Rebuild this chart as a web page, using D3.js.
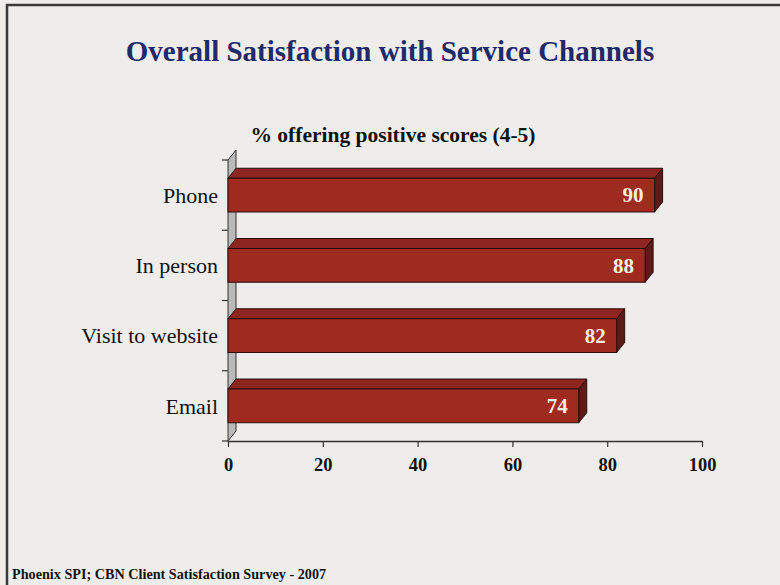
<!DOCTYPE html>
<html>
<head>
<meta charset="utf-8">
<script src="https://cdn.jsdelivr.net/npm/d3@7/dist/d3.min.js"></script>
<style>
  html, body { margin: 0; padding: 0; background: #eeedec; }
  svg { display: block; }
  text { font-family: "Liberation Serif", "Times New Roman", serif; }
</style>
</head>
<body>
<svg id="chart" width="780" height="585"></svg>
<script>
// Survey results: share of respondents giving a 4 or 5 rating
const categories = ["Phone", "In person", "Visit to website", "Email"];
const values = [90, 88, 82, 74];
const xTicks = [0, 20, 40, 60, 80, 100];

const titleText = "Overall Satisfaction with Service Channels";
const subtitleText = "% offering positive scores (4-5)";
const sourceText = "Phoenix SPI; CBN Client Satisfaction Survey - 2007";

const svg = d3.select("#chart");
const W = 780, H = 585;

// slide background and frame
svg.append("rect").attr("width", W).attr("height", H).attr("fill", "#eeedec");
svg.append("path")
  .attr("d", `M7,${H} L7,5 L${W},5`)
  .attr("fill", "none").attr("stroke", "#3a3a3a").attr("stroke-width", 2.5);

// titles
svg.append("text").attr("x", 390).attr("y", 61).attr("text-anchor", "middle")
  .attr("font-size", 29).attr("font-weight", "bold").attr("fill", "#1f2a6b")
  .text(titleText);
svg.append("text").attr("x", 393).attr("y", 142).attr("text-anchor", "middle")
  .attr("font-size", 21.5).attr("font-weight", "bold").attr("fill", "#111")
  .text(subtitleText);
svg.append("text").attr("x", 12).attr("y", 579)
  .attr("font-size", 14.2).attr("font-weight", "bold").attr("fill", "#111")
  .text(sourceText);

// plot area
const x0 = 228, x1 = 702, yTop = 160, yBot = 441;
const dx = 8, dy = 10; // 3D depth offset

const x = d3.scaleLinear().domain([0, 100]).range([x0, x1]);
const y = d3.scaleBand().domain(categories).range([yTop, yBot])
  .paddingInner(0.52).paddingOuter(0.26);

const g = svg.append("g");

// side wall
g.append("path")
  .attr("d", `M${x0},${yTop} L${x0},${yBot} L${x0 + dx},${yBot - dy} L${x0 + dx},${yTop - dy} Z`)
  .attr("fill", "#b9b9b9").attr("stroke", "#333").attr("stroke-width", 1);

// category tick marks on the wall edge
const edges = [yTop].concat(categories.slice(1).map(c => y(c) - (y.step() - y.bandwidth()) / 2), [yBot]);
g.selectAll(".ytick").data(edges).join("line")
  .attr("x1", x0 - 6).attr("x2", x0).attr("y1", d => d).attr("y2", d => d)
  .attr("stroke", "#333").attr("stroke-width", 1.2);

// value axis
const xAxis = d3.axisBottom(x).tickValues(xTicks).tickSize(6).tickSizeOuter(0);
const ax = svg.append("g").attr("transform", `translate(0,${yBot})`).call(xAxis);
ax.select(".domain").attr("stroke", "#333").attr("stroke-width", 1.5);
ax.selectAll(".tick line").attr("stroke", "#333").attr("stroke-width", 1.2);
ax.selectAll(".tick text").attr("font-family", "Liberation Serif, serif")
  .attr("font-size", 18.5).attr("font-weight", "bold").attr("fill", "#111").attr("dy", "1.15em");

// category labels
svg.selectAll(".cat").data(categories).join("text")
  .attr("x", 218).attr("y", d => y(d) + y.bandwidth() / 2)
  .attr("dy", "0.35em").attr("text-anchor", "end")
  .attr("font-size", 22).attr("fill", "#111")
  .text(d => d);

// 3D bars
const bars = g.selectAll(".bar").data(categories.map((c, i) => ({ c, v: values[i] })))
  .join("g").attr("class", "bar");

bars.append("path") // top face
  .attr("d", d => {
    const t = y(d.c), xv = x(d.v);
    return `M${x0},${t} L${x0 + dx},${t - dy} L${xv + dx},${t - dy} L${xv},${t} Z`;
  })
  .attr("fill", "#8f2520").attr("stroke", "#2b0e0c").attr("stroke-width", 1);

bars.append("path") // end face
  .attr("d", d => {
    const t = y(d.c), b = t + y.bandwidth(), xv = x(d.v);
    return `M${xv},${t} L${xv + dx},${t - dy} L${xv + dx},${b - dy} L${xv},${b} Z`;
  })
  .attr("fill", "#5c1a18").attr("stroke", "#2b0e0c").attr("stroke-width", 1);

bars.append("rect") // front face
  .attr("x", x0).attr("y", d => y(d.c))
  .attr("width", d => x(d.v) - x0).attr("height", y.bandwidth())
  .attr("fill", "#9e2a20").attr("stroke", "#2b0e0c").attr("stroke-width", 1);

bars.append("text")
  .attr("x", d => x(d.v) - 11).attr("y", d => y(d.c) + y.bandwidth() / 2)
  .attr("dy", "0.35em").attr("text-anchor", "end")
  .attr("font-size", 21).attr("font-weight", "bold").attr("fill", "#f6eedd")
  .text(d => d.v);
</script>
</body>
</html>
